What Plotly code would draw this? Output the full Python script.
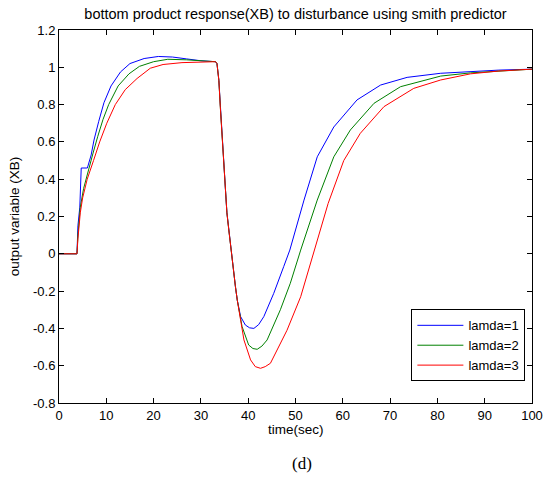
import plotly.graph_objects as go

# ---- data ----
drop_t = [33.1, 33.4, 33.8, 34.1, 34.5, 34.8, 35.2, 35.5, 35.9, 36.4, 36.6, 37.3, 37.7]
drop_y = [1.03, 1.02, 0.93, 0.79, 0.63, 0.485, 0.34, 0.22, 0.128, 0.02, -0.05, -0.176, -0.25]

t_l1 = [0, 3.8, 4.0, 4.4, 4.7, 6.0, 6.8, 7.4, 8.4, 9.5, 11, 13, 15, 18, 21, 24, 27, 30] + drop_t + \
       [38.4, 39.4, 40.3, 41.2, 42.2, 43.3, 45.4, 47.5, 48.8, 51.8, 54.6, 58.1, 63.0, 68.0, 73.6, 80.7, 87, 93, 100]
y_l1 = [0, 0, 0.15, 0.25, 0.46, 0.46, 0.53, 0.61, 0.71, 0.81, 0.9, 0.975, 1.02, 1.047, 1.058, 1.055, 1.045, 1.035] + drop_y + \
       [-0.337, -0.382, -0.397, -0.40, -0.38, -0.337, -0.212, -0.069, 0.02, 0.288, 0.52, 0.68, 0.825, 0.905, 0.946, 0.968, 0.978, 0.985, 0.99]

t_l2 = [0, 3.8, 4.0, 4.5, 5.2, 6.2, 7.2, 8.2, 9.3, 10.5, 12.5, 14.8, 17, 20, 23, 27, 30] + drop_t + \
       [38.7, 40.1, 41.0, 41.9, 42.9, 44.0, 46.8, 48.9, 51.1, 54.6, 58.1, 61.6, 66.6, 72.2, 80.7, 87, 93, 100]
y_l2 = [0, 0, 0.1, 0.25, 0.35, 0.45, 0.54, 0.63, 0.72, 0.8, 0.9, 0.965, 1.005, 1.03, 1.043, 1.04, 1.035] + drop_y + \
       [-0.39, -0.489, -0.508, -0.512, -0.495, -0.462, -0.30, -0.158, 0.02, 0.288, 0.52, 0.664, 0.807, 0.896, 0.953, 0.97, 0.98, 0.99]

t_l3 = [0, 3.8, 4.0, 4.5, 5.0, 5.96, 7.3, 8.6, 10.1, 11.9, 14, 16.5, 19.3, 22, 26, 30] + drop_t + \
       [39.1, 40.5, 41.5, 42.6, 43.6, 44.7, 48.2, 51.1, 53.7, 56.9, 60.2, 63.7, 68.7, 75.0, 80.7, 87, 93, 100]
y_l3 = [0, 0, 0.08, 0.22, 0.3, 0.4, 0.5, 0.6, 0.7, 0.8, 0.88, 0.94, 0.995, 1.015, 1.025, 1.03] + drop_y + \
       [-0.462, -0.569, -0.605, -0.614, -0.605, -0.587, -0.41, -0.23, 0.0, 0.27, 0.5, 0.646, 0.789, 0.887, 0.932, 0.965, 0.98, 0.99]

series_names = ["lamda=1", "lamda=2", "lamda=3"]
series_colors = ["#0000FF", "#008000", "#FF0000"]

x_ticks = [0, 10, 20, 30, 40, 50, 60, 70, 80, 90, 100]
y_ticks = [-0.8, -0.6, -0.4, -0.2, 0, 0.2, 0.4, 0.6, 0.8, 1, 1.2]
y_ticktext = ["-0.8", "-0.6", "-0.4", "-0.2", "0", "0.2", "0.4", "0.6", "0.8", "1", "1.2"]

title_text = "bottom product response(XB) to disturbance using smith predictor"
x_title = "time(sec)"
y_title = "output variable (XB)"
caption = "(d)"

fig = go.Figure()
for t, y, n, c in zip([t_l1, t_l2, t_l3], [y_l1, y_l2, y_l3], series_names, series_colors):
    fig.add_trace(go.Scatter(x=t, y=y, mode="lines", name=n, line=dict(color=c, width=1)))

font_main = "Liberation Sans, Arial, sans-serif"
axis_common = dict(showline=True, linecolor="black", linewidth=1, mirror="ticks",
                   ticks="inside", ticklen=5, tickcolor="black", showgrid=False, zeroline=False,
                   automargin=False,
                   tickfont=dict(family=font_main, size=13, color="black"))

fig.update_layout(
    width=544, height=485,
    margin=dict(l=59, r=12, t=30, b=82, autoexpand=False),
    paper_bgcolor="white", plot_bgcolor="white",
    title=dict(text=title_text, x=0.5, xref="paper", xanchor="center",
               y=1 - 14 / 485, yref="container", yanchor="middle",
               font=dict(family=font_main, size=14.5, color="black")),
    xaxis=dict(range=[0, 100], tickvals=x_ticks, **axis_common),
    yaxis=dict(range=[-0.8, 1.2], tickvals=y_ticks, ticktext=y_ticktext,
               title=dict(text=y_title, font=dict(family=font_main, size=13.5, color="black"), standoff=10),
               **axis_common),
    legend=dict(x=0.986, xanchor="right", y=0.058, yanchor="bottom",
                bordercolor="black", borderwidth=1, bgcolor="white",
                itemwidth=46,
                font=dict(family=font_main, size=13, color="black")),
    showlegend=True,
)

fig.add_annotation(text=x_title, xref="paper", yref="paper", x=0.5, y=-26 / 373,
                   yanchor="middle", showarrow=False,
                   font=dict(family=font_main, size=13.5, color="black"))
fig.add_annotation(text=caption, xref="paper", yref="paper", x=(302 - 59) / 473, y=-60 / 373,
                   yanchor="middle", showarrow=False,
                   font=dict(family="Liberation Serif, Times New Roman, serif", size=17, color="black"))

fig.write_html("out.html")
